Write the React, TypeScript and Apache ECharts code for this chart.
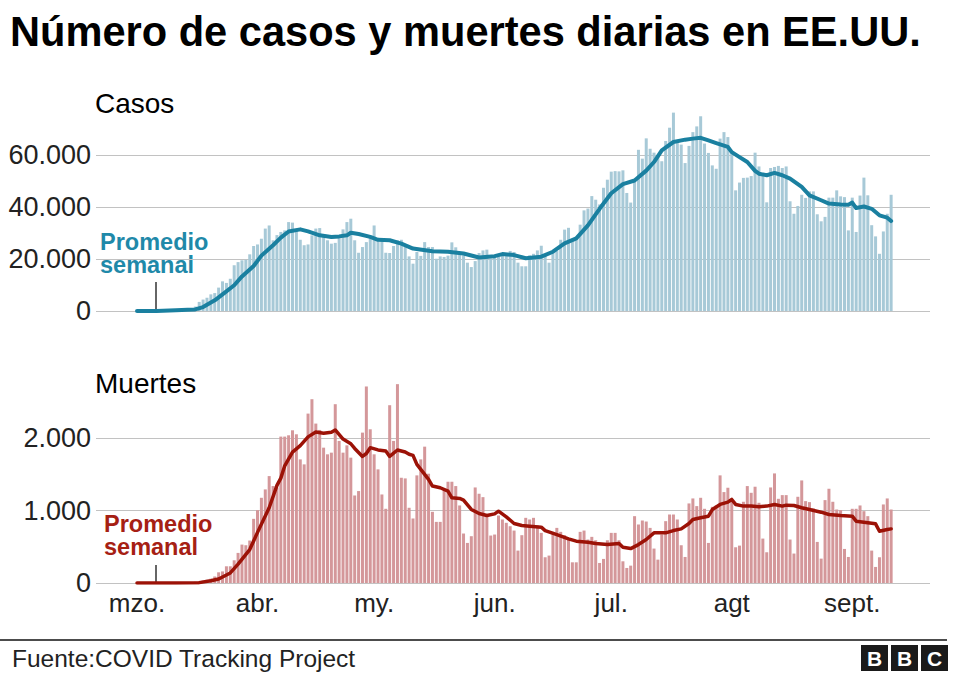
import React, { useEffect, useRef } from 'react';
import * as echarts from 'echarts';

// day 0 = 1 March 2020
const CASES = [
  10, 20, 25, 40, 60, 90, 110, 140, 200, 290, 370, 530, 730, 900, 1100, 1700,
  3500, 4400, 5100, 6400, 6900, 9000, 11400, 10800, 12400, 17600,
  18800, 19500, 19700, 21800, 25000, 25600, 27800, 31700, 32900, 27200,
  29200, 30400, 31000, 34200, 34000, 31000, 27400, 25300, 25600, 29100,
  31700, 31900, 29400, 27200, 25900, 26200, 28700, 31400, 34200, 35500,
  27200, 22400, 24600, 26500, 28100, 32900, 27800, 27200, 22400, 22300,
  25000, 27200,
  27400, 24600, 21000, 18200, 22700, 21200, 26500, 24600, 24600, 20100,
  21000, 20800, 21300, 26400, 24500, 22700, 21400, 18600, 16900, 19200,
  22300, 23300, 23600, 20100, 20800, 20800, 21300, 21700, 23100, 22700,
  18600, 17200, 17200, 21400, 22000, 23300, 25100, 21400, 18600, 22900,
  23100, 27400, 31300, 32000, 27200, 28500, 33200, 38700, 39400, 44200,
  42800, 41000, 47400, 50500, 53600, 53800, 53700, 54100, 45400, 41700,
  49600, 62000, 58600, 66400, 62400, 60900, 59900, 57600, 65400, 70500,
  76300, 64600, 64000, 56900, 63500, 68800, 71000, 74900,
  64400, 60800, 56000, 54700, 66300, 68800, 66900, 61500, 46400, 49400,
  51200, 51300, 51900, 60900, 55600, 52200, 41800, 55000, 55400, 55800,
  55000, 55600, 42200, 37400, 40400, 44700, 43500, 46000, 46000, 37200,
  34500, 36200, 43600, 43600, 46400, 44100, 43800, 31000, 43600, 30400,
  44400, 51300, 44500, 33000, 28700, 22000, 30600, 37400, 44700,
];

const DEATHS = [
  1, 1, 3, 2, 3, 2, 3, 3, 4, 5, 7, 8, 10, 11, 13, 18, 25, 33, 45, 60, 90,
  148, 160, 231, 231, 314, 416, 531, 522, 587, 887,
  1007, 1178, 1294, 1478, 1340, 1317, 2024, 2024, 2042, 2111,
  2056, 1709, 1640, 2342, 2541, 2204, 2116, 1871, 1779, 1802,
  2472, 1964, 1802, 1903, 1733, 1210, 1271, 2079, 2717, 2125,
  1779, 1571, 1224, 1026, 2458, 1964, 2749, 1455, 1446, 1040,
  892,
  1488, 1709, 1885, 1511, 984, 845, 845, 1284, 1400, 1400,
  1340, 1072, 684, 554, 647, 1321, 1234, 1187, 924, 656,
  670, 933, 878, 832, 785, 725, 448, 661, 901, 878,
  901, 795, 693, 356, 379, 707, 762, 707, 661, 601,
  286, 286, 707, 725, 601, 638, 591, 277, 333, 591,
  693, 693, 591, 300, 208, 240, 924, 809, 864, 850,
  762, 476, 323, 670, 855, 947, 947, 878, 522, 360,
  1100, 1169, 1063, 1178,
  1026, 554, 1053, 1072, 1488, 1257, 1317, 1155, 494, 517,
  1123, 1340, 1247, 1331, 1109, 614, 425, 1321, 1515, 1164,
  1215, 1215, 601, 407, 1192, 1418, 1132, 1118, 1030, 568,
  337, 1146, 1303, 1123, 1016, 1007, 471, 360, 1026, 1026,
  1072, 993, 924, 448, 222, 356, 1086, 1169, 1016,
];

const CASES_AVG_DAYS = [
  0, 5, 10, 13, 15, 17, 20, 22, 25, 27, 30, 32, 35, 37, 39, 42, 44, 47, 50, 52,
  54, 55, 57, 60, 62, 65, 68, 71, 76, 80, 84, 88, 92, 94, 97, 100, 104, 107, 110, 113,
  116, 119, 122, 125, 128, 131, 133, 135, 138, 141, 143, 145, 147, 149, 152, 153, 155, 157, 159, 160,
  162, 164, 166, 168, 171, 173, 176, 178, 181, 183, 184, 185, 187, 189, 191, 193, 194,
];
const CASES_AVG = [
  0, 0, 300, 500, 600, 1500, 4100, 6400, 9900, 13300, 17300, 21300, 25300, 28200, 30600, 31400, 30600, 29100, 28500, 28700,
  29100, 30100, 29600, 28500, 27400, 27200, 25900, 24000, 23000, 22800, 22100, 20600, 21100, 21900, 21500, 20300, 20900, 22800, 26000, 27900,
  32900, 39300, 45300, 48800, 50200, 54000, 57300, 61800, 65000, 65900, 66300, 66600, 65600, 64600, 63100, 61100, 59200, 57300, 53900, 52800,
  52200, 53100, 52200, 50900, 47700, 44500, 42600, 41300, 41000, 40900, 41700, 39600, 40200, 39300, 36800, 35900, 34600,
];

const DEATHS_AVG_DAYS = [
  0, 10, 16, 19, 21, 24, 26, 29, 31, 34, 36, 37, 38, 40, 42, 44, 46, 48, 50, 51,
  53, 55, 56, 58, 59, 60, 62, 64, 65, 67, 69, 70, 71, 72, 73, 75, 76, 78, 80, 81,
  83, 84, 86, 88, 90, 92, 93, 95, 97, 99, 101, 104, 105, 108, 111, 113, 116, 118, 121, 124,
  125, 127, 129, 131, 133, 136, 138, 140, 142, 143, 145, 147, 148, 150, 152, 153, 154, 156, 158, 160,
  162, 164, 166, 167, 169, 171, 173, 176, 178, 181, 184, 185, 188, 190, 191, 193, 194,
];
const DEATHS_AVG = [
  0, 0, 5, 32, 55, 139, 260, 462, 700, 1040, 1350, 1450, 1620, 1810, 1900, 2020, 2088, 2070, 2085, 2116,
  1990, 1925, 1860, 1750, 1790, 1871, 1840, 1825, 1750, 1839, 1811, 1780, 1765, 1640, 1571, 1432, 1340, 1317, 1271, 1178,
  1169, 1146, 1017, 961, 933, 956, 993, 915, 822, 795, 785, 772, 725, 670, 610, 578, 564, 545, 531, 545,
  494, 476, 531, 601, 693, 693, 725, 748, 822, 878, 901, 924, 1016, 1086, 1118, 1155, 1086, 1063, 1063, 1053,
  1063, 1086, 1063, 1076, 1072, 1040, 1016, 979, 947, 933, 924, 855, 832, 818, 716, 739, 748,
];

const MONTH_DAYS = [0, 31, 61, 92, 122, 153, 184];
const MONTH_LABELS = ['mzo.', 'abr.', 'my.', 'jun.', 'jul.', 'agt', 'sept.'];

const TITLE = 'Número de casos y muertes diarias en EE.UU.';
const CASES_LABEL = 'Casos';
const DEATHS_LABEL = 'Muertes';
const AVG_LINE1 = 'Promedio';
const AVG_LINE2 = 'semanal';
const SOURCE = 'Fuente:COVID Tracking Project';

const FONT = "'Liberation Sans', Arial, Helvetica, sans-serif";
const X_MIN = -10.55;
const X_MAX = 204.0;
const GRID_COLOR = '#c2c2c2';
const CASE_BAR = '#a7c9d7';
const CASE_LINE = '#1a80a0';
const CASE_TEXT = '#1f89a9';
const DEATH_BAR = '#d4979a';
const DEATH_LINE = '#9c1207';
const DEATH_TEXT = '#a62013';

const fmt = (v: number) => String(v).replace(/\B(?=(\d{3})+(?!\d))/g, '.');

function buildOption() {
  const casesBars = CASES.map((v, i) => [i, v]);
  const deathsBars = DEATHS.map((v, i) => [i, v]);
  const casesAvg = CASES_AVG_DAYS.map((d, i) => [d, CASES_AVG[i]]);
  const deathsAvg = DEATHS_AVG_DAYS.map((d, i) => [d, DEATHS_AVG[i]]);

  const xBase = {
    type: 'value',
    min: X_MIN,
    max: X_MAX,
    axisLine: { show: false },
    axisTick: { show: false },
    splitLine: { show: false },
  };
  const yBase = (max: number, interval: number) => ({
    type: 'value',
    min: 0,
    max,
    interval,
    axisLine: { show: false },
    axisTick: { show: false },
    axisLabel: {
      formatter: (v: number) => (v >= max ? '' : fmt(v)),
      fontSize: 27,
      color: '#222',
      fontFamily: FONT,
      margin: 5,
    },
    splitLine: {
      show: true,
      showMaxLine: false,
      lineStyle: { color: [GRID_COLOR, GRID_COLOR, GRID_COLOR, GRID_COLOR, 'rgba(0,0,0,0)'], width: 1 },
    },
  });

  const boxes = [0, 1, 2].map((i) => ({
    type: 'group',
    left: 861 + i * 30,
    top: 645,
    children: [
      { type: 'rect', shape: { x: 0, y: 0, width: 27, height: 26 }, style: { fill: '#1a1a1a' } },
      {
        type: 'text',
        x: 13.5,
        y: 13.5,
        style: {
          text: 'BBC'[i],
          fill: '#fff',
          font: `bold 21px ${FONT}`,
          align: 'center',
          verticalAlign: 'middle',
        },
      },
    ],
  }));

  const avgText = (x: number, y1: number, y2: number, fill: string) => [
    { type: 'text', x, y: y1, style: { text: AVG_LINE1, font: `bold 23.5px ${FONT}`, fill, verticalAlign: 'middle', lineHeight: 23.5 } },
    { type: 'text', x, y: y2, style: { text: AVG_LINE2, font: `bold 23.5px ${FONT}`, fill, verticalAlign: 'middle', lineHeight: 23.5 } },
  ];

  return {
    animation: false,
    backgroundColor: '#fff',
    grid: [
      { left: 96, right: 30, top: 103, height: 208 },
      { left: 96, right: 30, top: 366, height: 217 },
    ],
    xAxis: [
      { ...xBase, gridIndex: 0, axisLabel: { show: false } },
      {
        ...xBase,
        gridIndex: 1,
        axisLabel: {
          show: true,
          customValues: MONTH_DAYS,
          formatter: (v: number) => {
            const k = MONTH_DAYS.indexOf(Math.round(v));
            return k >= 0 ? MONTH_LABELS[k] : '';
          },
          fontSize: 26,
          color: '#222',
          fontFamily: FONT,
          margin: 7,
        },
      },
    ],
    yAxis: [
      { ...yBase(80000, 20000), gridIndex: 0 },
      { ...yBase(3000, 1000), gridIndex: 1 },
    ],
    series: [
      {
        type: 'bar',
        xAxisIndex: 0,
        yAxisIndex: 0,
        data: casesBars,
        barWidth: 3,
        itemStyle: { color: CASE_BAR },
        silent: true,
      },
      {
        type: 'line',
        xAxisIndex: 0,
        yAxisIndex: 0,
        data: casesAvg,
        showSymbol: false,
        lineStyle: { color: CASE_LINE, width: 4, cap: 'round', join: 'round' },
        silent: true,
        z: 3,
      },
      {
        type: 'bar',
        xAxisIndex: 1,
        yAxisIndex: 1,
        data: deathsBars,
        barWidth: 3,
        itemStyle: { color: DEATH_BAR },
        silent: true,
      },
      {
        type: 'line',
        xAxisIndex: 1,
        yAxisIndex: 1,
        data: deathsAvg,
        showSymbol: false,
        lineStyle: { color: DEATH_LINE, width: 3.5, cap: 'round', join: 'round' },
        silent: true,
        z: 3,
      },
    ],
    graphic: [
      {
        type: 'text',
        x: 10,
        y: 31,
        style: { text: TITLE, font: `bold 41.6px ${FONT}`, fill: '#000', verticalAlign: 'middle' },
      },
      {
        type: 'text',
        x: 95,
        y: 103,
        style: { text: CASES_LABEL, font: `28px ${FONT}`, fill: '#000', verticalAlign: 'middle' },
      },
      {
        type: 'text',
        x: 95,
        y: 383,
        style: { text: DEATHS_LABEL, font: `28px ${FONT}`, fill: '#000', verticalAlign: 'middle' },
      },
      ...avgText(100, 241.5, 265, CASE_TEXT),
      ...avgText(104, 523.5, 547, DEATH_TEXT),
      { type: 'line', shape: { x1: 156, y1: 282, x2: 156, y2: 311 }, style: { stroke: '#333', lineWidth: 1.5 } },
      { type: 'line', shape: { x1: 156, y1: 565, x2: 156, y2: 583 }, style: { stroke: '#333', lineWidth: 1.5 } },
      { type: 'line', shape: { x1: 0, y1: 640, x2: 947, y2: 640 }, style: { stroke: '#111', lineWidth: 1.5 } },
      {
        type: 'text',
        x: 12,
        y: 658,
        style: { text: SOURCE, font: `24.5px ${FONT}`, fill: '#222', verticalAlign: 'middle' },
      },
      ...boxes,
    ],
  };
}

export default function App() {
  const ref = useRef<HTMLDivElement>(null);
  useEffect(() => {
    if (!ref.current) return;
    const chart = echarts.init(ref.current, null, { renderer: 'svg' });
    chart.setOption(buildOption() as any);
    return () => chart.dispose();
  }, []);
  return <div ref={ref} style={{ position: 'fixed', left: 0, top: 0, width: 960, height: 675 }} />;
}
